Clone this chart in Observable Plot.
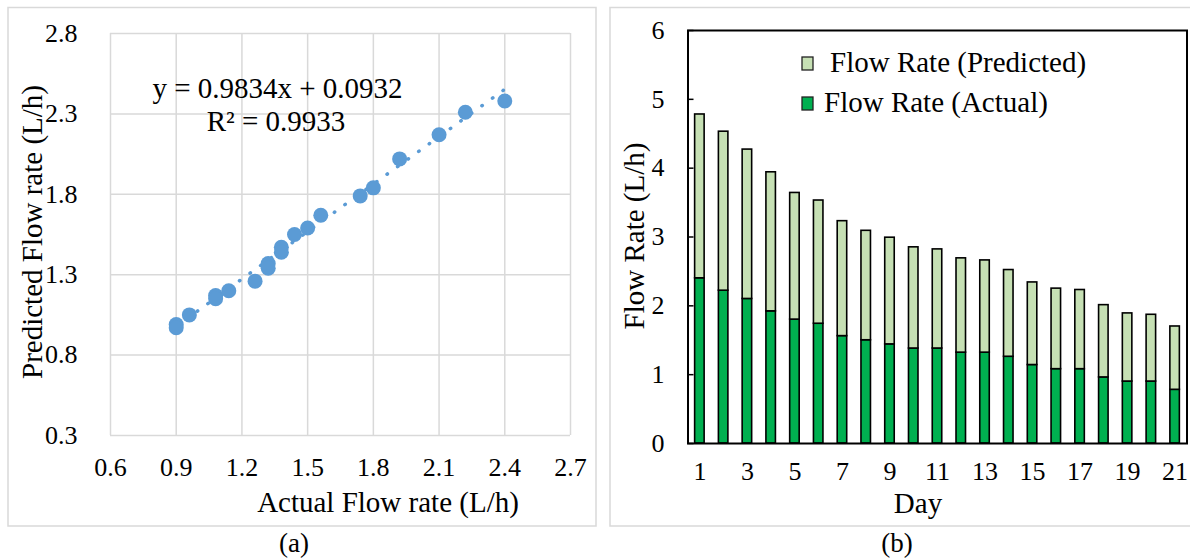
<!DOCTYPE html>
<html>
<head>
<meta charset="utf-8">
<script src="https://cdn.jsdelivr.net/npm/d3@7"></script>
<script src="https://cdn.jsdelivr.net/npm/@observablehq/plot@0.6"></script>
<style>
  html, body { margin: 0; padding: 0; background: #fff; overflow: hidden; }
  #wrap { position: relative; width: 1190px; height: 560px; }
  #wrap > svg, #wrap > div { position: absolute; }
  #wrap svg, #wrap svg text { font-family: 'Liberation Serif', 'Times New Roman', serif !important; }
</style>
</head>
<body>
<div id="wrap"></div>
<script>
// ---------- data ----------
const days = [1, 2, 3, 4, 5, 6, 7, 8, 9, 10, 11, 12, 13, 14, 15, 16, 17, 18, 19, 20, 21];
const actualFlow = [2.40, 2.22, 2.10, 1.92, 1.80, 1.74, 1.56, 1.50, 1.44, 1.38, 1.38, 1.32, 1.32, 1.26, 1.14, 1.08, 1.08, 0.96, 0.90, 0.90, 0.78];
const predictedFlow = [2.38, 2.31, 2.17, 2.02, 1.84, 1.79, 1.67, 1.59, 1.55, 1.47, 1.44, 1.37, 1.34, 1.26, 1.20, 1.17, 1.15, 1.05, 0.99, 0.97, 0.92];
const scatterDays = 20; // points shown in panel (a)
const slope = 0.9834, intercept = 0.0932;
const eqText = "y = 0.9834x + 0.0932";
const r2Text = "R\u00b2 = 0.9933";
const xTicksA = [0.6, 0.9, 1.2, 1.5, 1.8, 2.1, 2.4, 2.7];
const yTicksA = [0.3, 0.8, 1.3, 1.8, 2.3, 2.8];
const yTicksB = [0, 1, 2, 3, 4, 5, 6];
const xTicksB = [1, 3, 5, 7, 9, 11, 13, 15, 17, 19, 21];
const seriesNames = ["Flow Rate (Actual)", "Flow Rate (Predicted)"];
const seriesColors = ["#00b050", "#c6e0b4"];

const FONT = "'Liberation Serif', 'Times New Roman', serif";
const wrap = document.getElementById("wrap");

// ---------- panel (a) ----------
const scatter = days.slice(0, scatterDays).map((d, i) => ({actual: actualFlow[i], predicted: predictedFlow[i]}));
const xExt = d3.extent(scatter, d => d.actual);
const trend = xExt.map(x => ({x, y: slope * x + intercept}));

const plotA = Plot.plot({
  width: 600, height: 530,
  marginLeft: 110, marginRight: 30, marginTop: 33, marginBottom: 95,
  x: {domain: [0.6, 2.7]},
  y: {domain: [0.3, 2.8]},
  style: {fontFamily: FONT, fontSize: "26px", color: "black", background: "transparent", overflow: "visible"},
  marks: [
    Plot.gridX(xTicksA, {stroke: "#d9d9d9", strokeOpacity: 1, strokeWidth: 1.5}),
    Plot.gridY(yTicksA, {stroke: "#d9d9d9", strokeOpacity: 1, strokeWidth: 1.5}),
    Plot.axisX(xTicksA, {tickSize: 0, tickPadding: 22.5, tickFormat: d => d.toFixed(1), label: null, fontSize: 26}),
    Plot.axisY(yTicksA, {tickSize: 0, tickPadding: 33, tickFormat: d => d.toFixed(1), label: null, fontSize: 26}),
    Plot.line(trend, {x: "x", y: "y", stroke: "#5b9bd5", strokeWidth: 3.5, strokeDasharray: "0.5 12.5", strokeLinecap: "round"}),
    Plot.dot(scatter, {x: "actual", y: "predicted", r: 7.5, fill: "#5b9bd5"})
  ]
});
plotA.style.left = "0px"; plotA.style.top = "0px";
wrap.appendChild(plotA);

// ---------- panel (b) ----------
const rows = [];
days.forEach((d, i) => {
  rows.push({day: d, series: seriesNames[0], value: actualFlow[i]});
  rows.push({day: d, series: seriesNames[1], value: predictedFlow[i]});
});

const plotB = Plot.plot({
  width: 590, height: 530,
  marginLeft: 87.5, marginRight: 3.5, marginTop: 30, marginBottom: 87,
  x: {domain: days, paddingInner: 0.6, paddingOuter: 0.3, align: 0.5, round: false},
  y: {domain: [0, 6]},
  color: {domain: seriesNames, range: seriesColors},
  style: {fontFamily: FONT, fontSize: "26px", color: "black", background: "transparent", overflow: "visible"},
  marks: [
    Plot.barY(rows, {x: "day", y: "value", fill: "series", stroke: "black", strokeWidth: 1.6, order: seriesNames}),
    Plot.axisX(xTicksB, {tickSize: 0, tickPadding: 17.8, label: null, fontSize: 26}),
    Plot.axisY(yTicksB, {tickSize: 6, dx: 6, tickFormat: () => "", label: null, strokeWidth: 1.5}),
    Plot.axisY(yTicksB, {tickSize: 0, tickPadding: 23.5, tickFormat: d => String(d), label: null, fontSize: 26}),
    Plot.frame({stroke: "black", strokeWidth: 2})
  ]
});
plotB.style.left = "600px"; plotB.style.top = "0px";
wrap.appendChild(plotB);

// ---------- overlay: frames, titles, legend, labels ----------
const ov = d3.select(wrap).append("svg")
  .attr("width", 1190).attr("height", 560)
  .style("left", "0px").style("top", "0px")
  .style("pointer-events", "none")
  .style("font-family", FONT);

ov.append("rect").attr("x", 8).attr("y", 7.5).attr("width", 588).attr("height", 518.5)
  .attr("fill", "none").attr("stroke", "#d9d9d9").attr("stroke-width", 1.5);
ov.append("rect").attr("x", 610).attr("y", 7.5).attr("width", 600).attr("height", 518.5)
  .attr("fill", "none").attr("stroke", "#d9d9d9").attr("stroke-width", 1.5);

function txt(x, y, s, size, anchor = "middle", rot = 0) {
  const t = ov.append("text").attr("font-size", size).attr("text-anchor", anchor).attr("fill", "black").text(s);
  if (rot) t.attr("transform", `translate(${x},${y}) rotate(${rot})`);
  else t.attr("x", x).attr("y", y);
  return t;
}

// panel (a) texts
txt(277.5, 98, eqText, 29);
txt(276, 131, r2Text, 29);
txt(388, 511.5, "Actual Flow rate (L/h)", 29);
txt(42, 232, "Predicted Flow rate (L/h)", 29, "middle", -90);
txt(294, 552, "(a)", 27);

// panel (b) texts
txt(918, 513, "Day", 29);
txt(644, 236, "Flow Rate (L/h)", 29, "middle", -90);
txt(897, 552, "(b)", 27);

// legend (b)
const legend = [
  {name: seriesNames[1], color: seriesColors[1], sx: 802, sy: 57, tx: 830, ty: 71.5},
  {name: seriesNames[0], color: seriesColors[0], sx: 802, sy: 97, tx: 824, ty: 111.5}
];
legend.forEach(l => {
  ov.append("rect").attr("x", l.sx).attr("y", l.sy).attr("width", 11).attr("height", 13)
    .attr("fill", l.color).attr("stroke", "#222").attr("stroke-width", 1.3);
  txt(l.tx, l.ty, l.name, 29, "start");
});
</script>
</body>
</html>
